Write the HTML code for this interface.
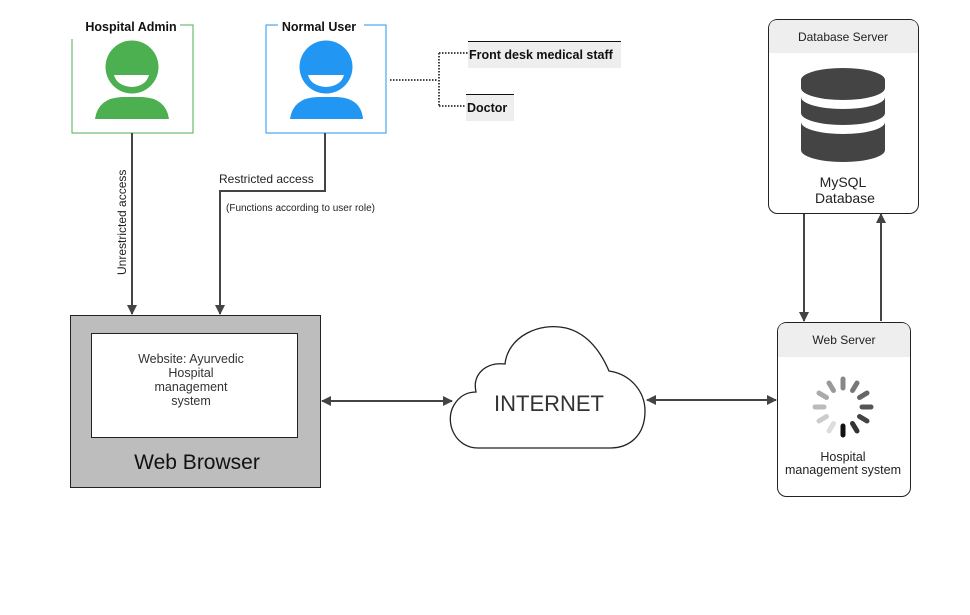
<!DOCTYPE html>
<html><head><meta charset="utf-8"><style>
html,body{margin:0;padding:0;background:#fff;}
svg{display:block;font-family:"Liberation Sans",sans-serif;}
</style></head><body>
<svg width="970" height="615" viewBox="0 0 970 615" xmlns="http://www.w3.org/2000/svg">
<defs>
<marker id="ah" markerWidth="10" markerHeight="10" refX="9" refY="5" orient="auto" markerUnits="userSpaceOnUse"><path d="M0,0 L10,5 L0,10 Z" fill="#444"/></marker>
<marker id="ahs" markerWidth="10" markerHeight="10" refX="1" refY="5" orient="auto" markerUnits="userSpaceOnUse"><path d="M10,0 L0,5 L10,10 Z" fill="#444"/></marker>
</defs>

<!-- Hospital Admin -->
<path d="M72,39 V133 H193 V25 H180" fill="none" stroke="#4caf50" stroke-width="1"/>
<text x="131" y="31" text-anchor="middle" font-size="12.5" font-weight="bold" fill="#111">Hospital Admin</text>
<path d="M95,119 Q98,98 122,97 L142,97 Q166,98 169,119 Z" fill="#4caf50"/>
<circle cx="132" cy="67" r="28.5" fill="#fff"/>
<circle cx="132" cy="67" r="26.5" fill="#4caf50"/>
<path d="M114,75 H149 Q146,86 132,87 Q117,86 114,75 Z" fill="#fff"/>

<!-- Normal User -->
<path d="M278,25 H266 V133 H386 V25 H364" fill="none" stroke="#2196f3" stroke-width="1"/>
<text x="319" y="31" text-anchor="middle" font-size="12.5" font-weight="bold" fill="#111">Normal User</text>
<path d="M290,119 Q293,98 317,97 L337,97 Q361,98 363,119 Z" fill="#2196f3"/>
<circle cx="326" cy="67" r="28.5" fill="#fff"/>
<circle cx="326" cy="67" r="26.5" fill="#2196f3"/>
<path d="M308,75 H344 Q341,86 326,87 Q311,86 308,75 Z" fill="#fff"/>

<!-- dotted tree -->
<path d="M390,80 H438 M439,53 V106 M439,53 H468 M439,106 H466" fill="none" stroke="#444" stroke-width="2" stroke-dasharray="1.5,1.5"/>
<rect x="468" y="42" width="153" height="26" fill="#eee"/>
<line x1="468" y1="41.5" x2="621" y2="41.5" stroke="#111"/>
<text x="469" y="59" font-size="12.5" font-weight="bold" fill="#111">Front desk medical staff</text>
<rect x="466" y="94" width="48" height="27" fill="#eee"/>
<line x1="466" y1="94.5" x2="514" y2="94.5" stroke="#111"/>
<text x="467" y="112" font-size="12.5" font-weight="bold" fill="#111">Doctor</text>

<!-- connectors from users -->
<line x1="132" y1="133" x2="132" y2="314" stroke="#444" stroke-width="2" marker-end="url(#ah)"/>
<path d="M325,133 V191 H220 V314" fill="none" stroke="#444" stroke-width="2" marker-end="url(#ah)"/>
<text transform="translate(126,275) rotate(-90)" font-size="12" fill="#222">Unrestricted access</text>
<text x="219" y="183" font-size="12" fill="#222">Restricted access</text>
<text x="226" y="211" font-size="10" fill="#222">(Functions according to user role)</text>

<!-- Web Browser -->
<rect x="70.5" y="315.5" width="250" height="172" fill="#bdbdbd" stroke="#222"/>
<rect x="91.5" y="333.5" width="206" height="104" fill="#fff" stroke="#222"/>
<g font-size="12.5" fill="#333" text-anchor="middle">
<text x="191" y="363">Website: Ayurvedic</text>
<text x="191" y="377">Hospital</text>
<text x="191" y="391">management</text>
<text x="191" y="405">system</text>
</g>
<text x="197" y="469" text-anchor="middle" font-size="21" fill="#111">Web Browser</text>

<!-- Cloud -->
<path d="M478,448 C455,448 444,422 454,405 C460,395 468,392 476,392 C472,374 486,362 505,364 C508,336 540,322 566,328 C586,333 600,350 609,371 C630,374 645,391 645,411 C645,435 630,448 610,448 Z" fill="#fff" stroke="#222" stroke-width="1.3"/>
<text x="549" y="411" text-anchor="middle" font-size="22" fill="#333">INTERNET</text>

<line x1="322" y1="401" x2="452" y2="401" stroke="#444" stroke-width="2" marker-start="url(#ahs)" marker-end="url(#ah)"/>
<line x1="647" y1="400" x2="776" y2="400" stroke="#444" stroke-width="2" marker-start="url(#ahs)" marker-end="url(#ah)"/>

<!-- Database Server -->
<rect x="768.5" y="19.5" width="150" height="194" rx="9" fill="#fff" stroke="#222"/>
<path d="M769,53 V29 Q769,20 778,20 H909 Q918,20 918,29 V53 Z" fill="#eee"/>
<text x="843" y="41" text-anchor="middle" font-size="12" fill="#222">Database Server</text>
<g fill="#444">
<path d="M801,80 A42,12 0 0 1 885,80 L885,88 A42,12 0 0 1 801,88 Z"/>
<path d="M801,97 A42,12 0 0 0 885,97 L885,113 A42,12 0 0 1 801,113 Z"/>
<path d="M801,122 A42,12 0 0 0 885,122 L885,150 A42,12 0 0 1 801,150 Z"/>
</g>
<text x="843" y="187" text-anchor="middle" font-size="14" fill="#222">MySQL</text>
<text x="845" y="203" text-anchor="middle" font-size="14" fill="#222">Database</text>

<line x1="804" y1="214" x2="804" y2="321" stroke="#444" stroke-width="2" marker-end="url(#ah)"/>
<line x1="881" y1="321" x2="881" y2="214" stroke="#444" stroke-width="2" marker-end="url(#ah)"/>

<!-- Web Server -->
<rect x="777.5" y="322.5" width="133" height="174" rx="9" fill="#fff" stroke="#222"/>
<path d="M778,357 V332 Q778,323 787,323 H901 Q910,323 910,332 V357 Z" fill="#eee"/>
<text x="844" y="344" text-anchor="middle" font-size="12" fill="#222">Web Server</text>
<g stroke-width="5" stroke-linecap="round">
<line x1="843" y1="426" x2="843" y2="435" stroke="#111"/>
<line x1="852.5" y1="423.5" x2="857" y2="431" stroke="#333"/>
<line x1="859.5" y1="416.5" x2="867" y2="421" stroke="#444"/>
<line x1="862" y1="407" x2="871" y2="407" stroke="#555"/>
<line x1="859.5" y1="397.5" x2="867" y2="393" stroke="#666"/>
<line x1="852.5" y1="390.5" x2="857" y2="383" stroke="#777"/>
<line x1="843" y1="388" x2="843" y2="379" stroke="#888"/>
<line x1="833.5" y1="390.5" x2="829" y2="383" stroke="#999"/>
<line x1="826.5" y1="397.5" x2="819" y2="393" stroke="#aaa"/>
<line x1="824" y1="407" x2="815" y2="407" stroke="#bbb"/>
<line x1="826.5" y1="416.5" x2="819" y2="421" stroke="#ccc"/>
<line x1="833.5" y1="423.5" x2="829" y2="431" stroke="#ddd"/>
</g>
<text x="843" y="461" text-anchor="middle" font-size="12.5" fill="#222">Hospital</text>
<text x="843" y="474" text-anchor="middle" font-size="12.5" fill="#222">management system</text>
</svg>
</body></html>
